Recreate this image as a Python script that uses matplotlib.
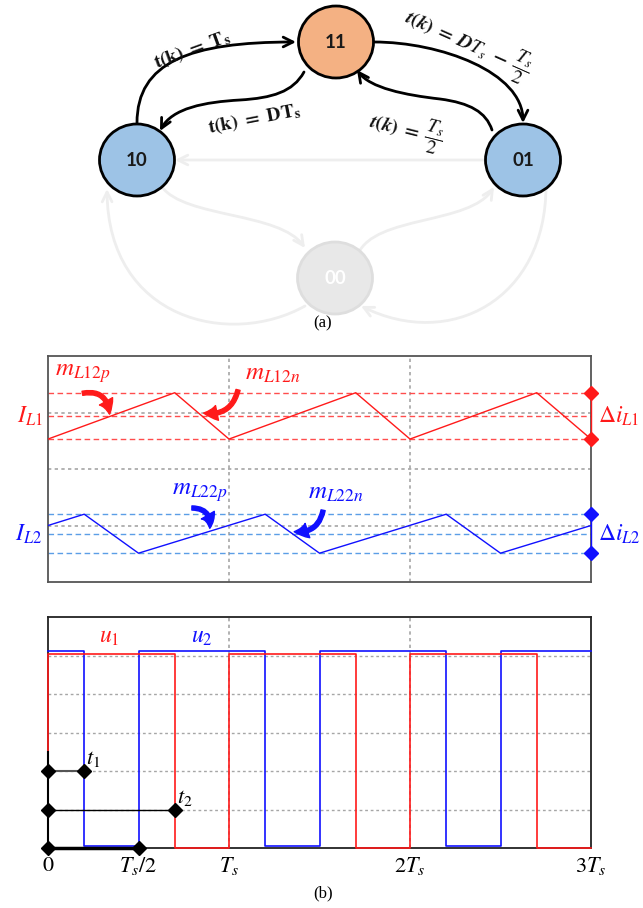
import matplotlib.pyplot as plt
from matplotlib.patches import Ellipse, FancyArrowPatch
from matplotlib.path import Path

plt.rcParams['mathtext.fontset'] = 'stix'
plt.rcParams['font.family'] = ['DejaVu Sans']

# ---- state diagram (a), drawn in a pixel-like frame (y downward) ----
states = ['11', '10', '01', '00']
state_x = [336, 137, 523, 335]
state_y = [42, 160, 160, 278]
state_fill = ['#f4b183', '#9dc3e6', '#9dc3e6', '#e8e8e8']
state_edge = ['black', 'black', 'black', '#dedede']
state_text = ['#1a1a1a', '#1a1a1a', '#1a1a1a', 'white']

# active transitions: cubic bezier control points
trans_paths = [
    [(137, 123), (137, 62), (190, 42), (296, 42)],                          # 10 -> 11
    [(304, 72), (293, 92), (272, 98), (240, 100), (205, 102), (172, 108), (160, 131)],  # 11 -> 10
    [(374, 42), (440, 42), (523, 72), (523, 123)],                          # 11 -> 01
    [(492, 130), (486, 112), (470, 103), (440, 99), (405, 95), (370, 88), (357, 70)],  # 01 -> 11
]
trans_labels = [r'$\mathbf{t(k)\ =\ T_s}$', r'$\mathbf{t(k)\ =\ DT_s}$',
                r'$\boldsymbol{t(k)\ =\ DT_s\ -\ \dfrac{T_s}{2}}$', r'$\boldsymbol{t(k)\ =\ \dfrac{T_s}{2}}$']
label_x = [192, 254, 468, 406]
label_y = [50, 119, 44, 130]
label_rot = [20, 11, -24, -14]

# inactive transitions (greyed out)
idle_paths = [
    [(486, 160), (380, 160), (280, 160), (175, 160)],     # 01 -> 10
    [(162, 187), (185, 218), (280, 212), (305, 248)],     # 10 -> 00
    [(358, 254), (375, 215), (470, 225), (494, 187)],     # 00 -> 01
    [(546, 186), (546, 300), (450, 350), (361, 306)],     # 01 -> 00
    [(305, 306), (230, 348), (108, 320), (107, 189)],     # 00 -> 10
]

# ---- waveforms (b), time in units of Ts ----
iL1_t = [0, 0.7, 1.0, 1.7, 2.0, 2.7, 3.0]
iL1 = [2.53, 3.35, 2.53, 3.35, 2.53, 3.35, 2.53]
iL1_levels = [3.35, 2.94, 2.53]
iL2_t = [0, 0.2, 0.5, 1.2, 1.5, 2.2, 2.5, 3.0]
iL2 = [1.0, 1.20, 0.51, 1.20, 0.51, 1.20, 0.51, 1.0]
iL2_levels = [1.20, 0.855, 0.51]

u1_t = [0, 0, 0.7, 1.0, 1.7, 2.0, 2.7, 3.0]
u1 = [0, 5.03, 0, 5.03, 0, 5.03, 0, 0]
u2_t = [0, 0.2, 0.5, 1.2, 1.5, 2.2, 2.5, 3.0]
u2 = [5.12, 0.05, 5.12, 0.05, 5.12, 0.05, 5.12, 5.12]

tick_pos = [0, 0.5, 1, 2, 3]
tick_lab = ['$0$', '$T_s/2$', '$T_s$', '$2T_s$', '$3T_s$']

RED = '#ff1a1a'
BLUE = '#1010ff'
RED_D = '#ff4d4d'
BLUE_D = '#5b9ee6'
GRID = '#a6a6a6'

fig = plt.figure(figsize=(6.43, 9.08), dpi=100)

# diagram axes
axd = fig.add_axes([0, 1 - 340 / 908, 1, 340 / 908])
axd.set_xlim(0, 643)
axd.set_ylim(340, 0)
axd.axis('off')


def curve(ax, pts, color, lw, z):
    codes = [Path.MOVETO] + [Path.CURVE4] * (len(pts) - 1)
    a = FancyArrowPatch(path=Path(pts, codes), arrowstyle='->,head_length=7,head_width=3.5',
                        color=color, lw=lw, zorder=z)
    ax.add_patch(a)


for p in idle_paths:
    curve(axd, p, '#eeeeee', 2.0, 1)
for p in trans_paths:
    curve(axd, p, 'black', 2.0, 2)

for s, x, y, fc, ec, tc in zip(states, state_x, state_y, state_fill, state_edge, state_text):
    axd.add_patch(Ellipse((x, y), 75, 72, facecolor=fc, edgecolor=ec, lw=2.0, zorder=3))
    axd.text(x, y + 1, s, ha='center', va='center', fontsize=13.5, fontweight='bold',
             family='Lato', color=tc, zorder=4)

for lab, x, y, r in zip(trans_labels, label_x, label_y, label_rot):
    axd.text(x, y, lab, ha='center', va='center', rotation=r, fontsize=14,
             color='#111111', rotation_mode='anchor')

fig.text(323 / 643, 1 - 323 / 908, '(a)', ha='center', va='center', fontsize=12,
         family='Liberation Serif')
fig.text(323 / 643, 1 - 893 / 908, '(b)', ha='center', va='center', fontsize=12,
         family='Liberation Serif')

# inductor currents
ax1 = fig.add_axes([48 / 643, 1 - 582 / 908, 543 / 643, 226 / 908])
ax1.set_xlim(0, 3)
ax1.set_ylim(0, 4)
for v in [1, 2, 3]:
    ax1.axhline(v, color=GRID, ls=(0, (2, 2)), lw=1.2, zorder=1)
for v in [1, 2]:
    ax1.axvline(v, color=GRID, ls=(0, (2, 2)), lw=1.2, zorder=1)
for v in iL1_levels:
    ax1.axhline(v, color=RED_D, ls=(0, (4, 2.5)), lw=1.0, zorder=2)
for v in iL2_levels:
    ax1.axhline(v, color=BLUE_D, ls=(0, (4, 2.5)), lw=1.0, zorder=2)
ax1.plot(iL1_t, iL1, color=RED, lw=1.0, zorder=3)
ax1.plot(iL2_t, iL2, color=BLUE, lw=1.0, zorder=3)

ax1.plot([3, 3], [iL1_levels[0], iL1_levels[2]], color=RED, lw=1.0, clip_on=False, zorder=4)
ax1.plot([3, 3], [iL1_levels[0], iL1_levels[2]], 'D', color=RED, ms=7, clip_on=False, zorder=5)
ax1.plot([3, 3], [iL2_levels[0], iL2_levels[2]], color=BLUE, lw=1.0, clip_on=False, zorder=4)
ax1.plot([3, 3], [iL2_levels[0], iL2_levels[2]], 'D', color=BLUE, ms=7, clip_on=False, zorder=5)

ax1.text(-0.03, iL1_levels[1], '$I_{L1}$', color=RED, fontsize=17, ha='right', va='center')
ax1.text(-0.03, iL2_levels[1], '$I_{L2}$', color=BLUE, fontsize=17, ha='right', va='center')
ax1.text(3.04, iL1_levels[1], r'$\Delta i_{L1}$', color=RED, fontsize=17, ha='left', va='center')
ax1.text(3.04, iL2_levels[1], r'$\Delta i_{L2}$', color=BLUE, fontsize=17, ha='left', va='center')

slope_labels = ['$m_{L12p}$', '$m_{L12n}$', '$m_{L22p}$', '$m_{L22n}$']
slope_lx = [0.19, 1.24, 0.84, 1.59]
slope_ly = [3.7, 3.7, 1.6, 1.6]
slope_col = [RED, RED, BLUE, BLUE]
arrow_from = [(0.19, 3.34), (1.05, 3.40), (0.795, 1.31), (1.52, 1.27)]
arrow_to = [(0.34, 2.97), (0.86, 2.99), (0.894, 0.95), (1.36, 0.89)]
arrow_rad = [-0.55, -0.45, -0.55, -0.45]
for lab, x, y, c, a, b, r in zip(slope_labels, slope_lx, slope_ly, slope_col,
                                  arrow_from, arrow_to, arrow_rad):
    ax1.text(x, y, lab, color=c, fontsize=18, ha='center', va='center')
    ax1.add_patch(FancyArrowPatch(a, b, connectionstyle=f'arc3,rad={r}',
                                  arrowstyle='simple,head_width=0.9,head_length=0.8,tail_width=0.25',
                                  mutation_scale=12, color=c, shrinkA=0, shrinkB=0, zorder=6))

ax1.set_xticks([])
ax1.set_yticks([])
for sp in ax1.spines.values():
    sp.set_color('#555555')
    sp.set_linewidth(1.3)

# switching signals
ax2 = fig.add_axes([48 / 643, 1 - 848 / 908, 543 / 643, 231 / 908])
ax2.set_xlim(0, 3)
ax2.set_ylim(0, 6)
for v in [1, 2, 3, 4, 5]:
    ax2.axhline(v, color=GRID, ls=(0, (2, 2)), lw=1.0, zorder=1)
for v in [1, 2]:
    ax2.axvline(v, color=GRID, ls=(0, (2, 2)), lw=1.2, zorder=1)
ax2.step(u2_t, u2, where='post', color=BLUE, lw=1.2, zorder=3, clip_on=False)
ax2.step(u1_t, u1, where='post', color=RED, lw=1.2, zorder=3, clip_on=False)

ax2.text(0.34, 5.5, '$u_1$', color=RED, fontsize=17, ha='center', va='center')
ax2.text(0.85, 5.5, '$u_2$', color=BLUE, fontsize=17, ha='center', va='center')

# timing markers t1, t2 and half period
mark_end = [0.2, 0.7, 0.5]
mark_lev = [2, 1, 0]
mark_col = ['#555555', 'black', 'black']
mark_lw = [1.5, 1.0, 2.5]
ax2.plot([0, 0], [0, 2.5], color='black', lw=1.5, zorder=4, clip_on=False)
for e, lv, c, w in zip(mark_end, mark_lev, mark_col, mark_lw):
    ax2.plot([0, e], [lv, lv], color=c, lw=w, zorder=4, clip_on=False)
    ax2.plot([0, e], [lv, lv], 'D', color='black', ms=7, zorder=5, clip_on=False)
ax2.text(0.21, 2.3, '$t_1$', fontsize=16, ha='left', va='center')
ax2.text(0.71, 1.3, '$t_2$', fontsize=16, ha='left', va='center')

ax2.set_xticks(tick_pos)
ax2.set_xticklabels(tick_lab, fontsize=16)
ax2.tick_params(length=0, pad=5)
ax2.set_yticks([])
for sp in ax2.spines.values():
    sp.set_color('#222222')
    sp.set_linewidth(1.3)

fig.savefig('out.png', dpi=100)
